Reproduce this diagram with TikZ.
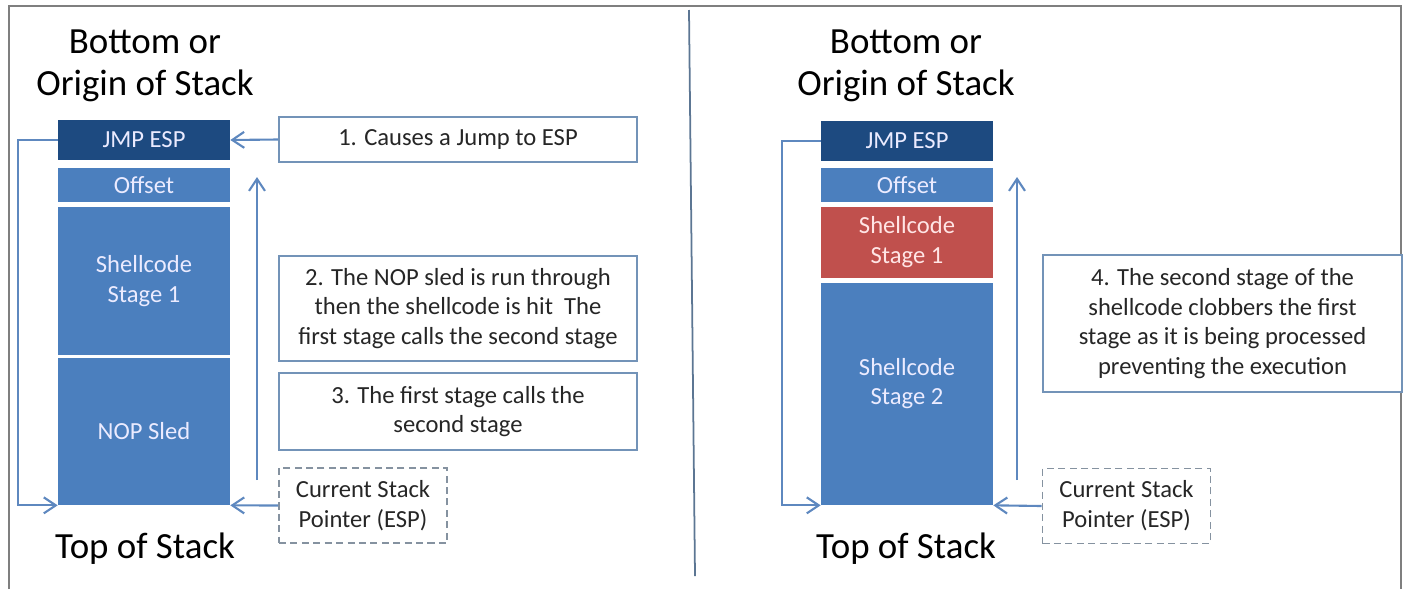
\documentclass[tikz,border=0pt]{standalone}
\usepackage{fontspec}
\setmainfont{Carlito}
\usetikzlibrary{arrows.meta}
\definecolor{navy}{HTML}{1D4A80}
\definecolor{stackblue}{HTML}{4B7FBE}
\definecolor{stackred}{HTML}{C0504D}
\definecolor{linkblue}{HTML}{5E88BF}
\definecolor{boxedge}{HTML}{7393B8}
\definecolor{dashedge}{HTML}{8592A0}
\definecolor{frame}{HTML}{7F7F7F}
\begin{document}
\begin{tikzpicture}[x=0.02cm, y=-0.02cm,
  every node/.style={font=\fontsize{14}{17}\selectfont, text=black!85},
  title/.style={font=\fontsize{21}{24}\selectfont, text=black, align=center},
  slot/.style={fill=stackblue, minimum width=3.44cm, inner sep=0pt, align=center, text=blue!8!white},
  note/.style={draw=boxedge, line width=1pt, fill=white, minimum width=7.16cm, align=center, inner sep=2pt},
  espbox/.style={draw=dashedge, dash pattern=on 4pt off 2.5pt, line width=1pt, minimum width=3.36cm, minimum height=1.5cm, align=center, inner sep=2pt},
  link/.style={draw=linkblue, line width=1.2pt, -{Straight Barb[length=2.4mm,width=3.2mm]}}]
\useasboundingbox (0,0) rectangle (1406,589);
\draw[frame, line width=1.2pt] (9,589) -- (9,6) -- (1401,6) -- (1401,589);
\draw[boxedge!80!black, line width=1pt] (689,10) -- (695,576);
% left: before the clobber
\node[title] (botL) at (145,66) {Bottom or\\Origin of Stack};
\node[slot, fill=navy, minimum height=0.8cm] (jmpL) at (144,140) {JMP ESP};
\node[slot, minimum height=0.68cm] (offL) at (144,185) {Offset};
\node[slot, minimum height=2.96cm] (scL) at (144,281) {Shellcode\\Stage 1};
\node[slot, minimum height=2.94cm] (nopL) at (144,431.5) {NOP Sled};
\node[title] (topL) at (145,549) {Top of Stack};
\node[note, minimum height=0.9cm] (noteA) at (458,139.5) {1. Causes a Jump to ESP};
\node[note, minimum height=2.1cm] (noteB) at (458,308.5) {2. The NOP sled is run through\\then the shellcode is hit\ \ The\\first stage calls the second stage};
\node[note, minimum height=1.54cm] (noteC) at (458,411.5) {3. The first stage calls the\\second stage};
\node[espbox] (espL) at (363,505.5) {Current Stack\\Pointer (ESP)};
\coordinate (runL0) at (257,480);
\coordinate (runL1) at (257,177);
\draw[link] (noteA.west) -- (jmpL.east);
\draw[link] (jmpL.west) -- ++(-40,0) |- (nopL.south west);
\draw[link] (espL.west) -- (nopL.south east);
\draw[link] (runL0) -- (runL1);
% right: stage two overwrites stage one
\node[title] (botR) at (906,66) {Bottom or\\Origin of Stack};
\node[slot, fill=navy, minimum height=0.8cm] (jmpR) at (907,141) {JMP ESP};
\node[slot, minimum height=0.68cm] (offR) at (907,185) {Offset};
\node[slot, fill=stackred, text=red!10!white, minimum height=1.42cm] (sc1R) at (907,242.5) {Shellcode\\Stage 1};
\node[slot, minimum height=4.44cm, text depth=0.5cm] (sc2R) at (907,394) {Shellcode\\Stage 2};
\node[title] (topR) at (906,549) {Top of Stack};
\node[note, minimum width=7.18cm, minimum height=2.74cm] (noteD) at (1222.5,323.5) {4. The second stage of the\\shellcode clobbers the first\\stage as it is being processed\\preventing the execution};
\node[espbox] (espR) at (1126.5,506) {Current Stack\\Pointer (ESP)};
\coordinate (runR0) at (1017,480);
\coordinate (runR1) at (1017,177);
\draw[link] (jmpR.west) -- ++(-39,0) |- (sc2R.south west);
\draw[link] (espR.west) -- (sc2R.south east);
\draw[link] (runR0) -- (runR1);
\end{tikzpicture}
\end{document}
